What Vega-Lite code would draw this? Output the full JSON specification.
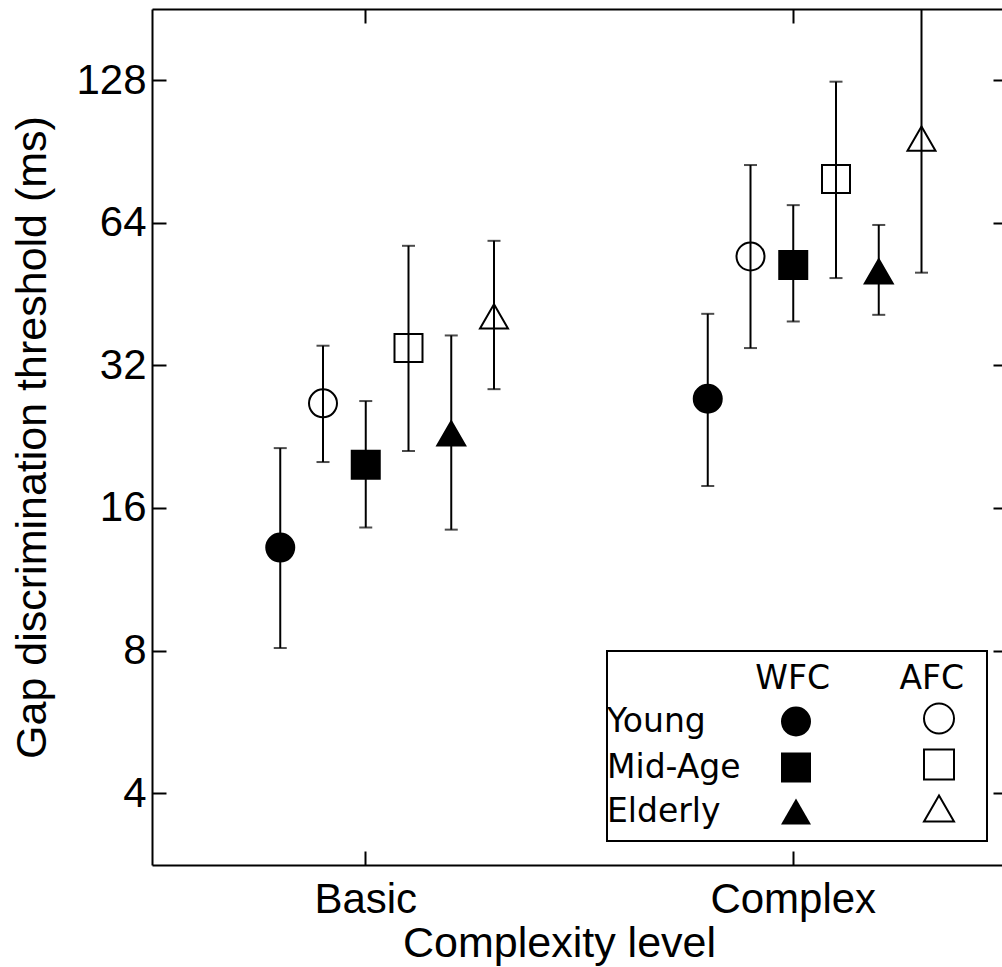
{
  "$schema": "https://vega.github.io/schema/vega-lite/v6.json",
  "width": 855,
  "height": 856,
  "autosize": {"type": "none"},
  "padding": {"left": 152, "top": 9, "right": -5, "bottom": 102},
  "background": "white",
  "config": {
    "view": {"stroke": null},
    "axis": {
      "grid": false,
      "domainColor": "black",
      "domainWidth": 2,
      "tickColor": "black",
      "tickWidth": 2,
      "tickSize": -14,
      "labelFont": "Liberation Sans",
      "labelFontSize": 42,
      "labelColor": "black",
      "titleFont": "Liberation Sans",
      "titleFontSize": 43,
      "titleFontWeight": "normal",
      "titleColor": "black"
    },
    "legend": {"strokeWidth": 2}
  },
  "data": {
    "values": [
      {"level": "Basic", "group": "Young WFC", "age": "Young", "cond": "WFC", "value": 13.2, "lo": 8.1, "hi": 21.4},
      {"level": "Basic", "group": "Young AFC", "age": "Young", "cond": "AFC", "value": 26.6, "lo": 20.0, "hi": 35.2},
      {"level": "Basic", "group": "Mid-Age WFC", "age": "Mid-Age", "cond": "WFC", "value": 19.75, "lo": 14.55, "hi": 26.9},
      {"level": "Basic", "group": "Mid-Age AFC", "age": "Mid-Age", "cond": "AFC", "value": 34.8, "lo": 21.1, "hi": 57.2},
      {"level": "Basic", "group": "Elderly WFC", "age": "Elderly", "cond": "WFC", "value": 23.0, "lo": 14.4, "hi": 37.0},
      {"level": "Basic", "group": "Elderly AFC", "age": "Elderly", "cond": "AFC", "value": 40.6, "lo": 28.5, "hi": 58.6},
      {"level": "Complex", "group": "Young WFC", "age": "Young", "cond": "WFC", "value": 27.2, "lo": 17.8, "hi": 41.1},
      {"level": "Complex", "group": "Young AFC", "age": "Young", "cond": "AFC", "value": 54.3, "lo": 34.8, "hi": 84.7},
      {"level": "Complex", "group": "Mid-Age WFC", "age": "Mid-Age", "cond": "WFC", "value": 52.1, "lo": 39.6, "hi": 69.7},
      {"level": "Complex", "group": "Mid-Age AFC", "age": "Mid-Age", "cond": "AFC", "value": 79.1, "lo": 48.9, "hi": 127},
      {"level": "Complex", "group": "Elderly WFC", "age": "Elderly", "cond": "WFC", "value": 50.5, "lo": 40.9, "hi": 63.3},
      {"level": "Complex", "group": "Elderly AFC", "age": "Elderly", "cond": "AFC", "value": 96.3, "lo": 50.2, "hi": 200}
    ]
  },
  "layer": [
    {
      "mark": {"type": "rule", "color": "black", "strokeWidth": 2, "clip": true},
      "encoding": {
        "x": {"field": "level", "type": "nominal", "scale": {"domain": ["Basic", "Complex"], "paddingInner": 0, "paddingOuter": 0},
          "axis": {"orient": "bottom", "labelAngle": 0, "labelPadding": 28, "title": "Complexity level", "titlePadding": 2, "titleX": 407}},
        "xOffset": {"field": "group", "type": "nominal", "scale": {"domain": ["pad1", "pad2", "Young WFC", "Young AFC", "Mid-Age WFC", "Mid-Age AFC", "Elderly WFC", "Elderly AFC", "pad3"], "paddingInner": 0, "paddingOuter": 0.5, "align": 0.5}},
        "y": {"field": "lo", "type": "quantitative", "scale": {"type": "log", "base": 2, "domain": [2.822, 180.8], "nice": false, "zero": false},
          "axis": {"orient": "left", "values": [4, 8, 16, 32, 64, 128], "format": "d", "labelPadding": 20, "title": "Gap discrimination threshold (ms)", "titlePadding": 21}},
        "y2": {"field": "hi"}
      }
    },
    {
      "mark": {"type": "tick", "orient": "horizontal", "color": "black", "size": 13, "thickness": 2},
      "encoding": {
        "x": {"field": "level", "type": "nominal", "axis": {"orient": "top", "labels": false, "title": null}},
        "xOffset": {"field": "group", "type": "nominal"},
        "y": {"field": "lo", "type": "quantitative", "axis": {"orient": "right", "values": [4, 8, 16, 32, 64, 128], "labels": false, "title": null}}
      }
    },
    {
      "mark": {"type": "tick", "orient": "horizontal", "color": "black", "size": 13, "thickness": 2, "clip": true},
      "encoding": {
        "x": {"field": "level", "type": "nominal", "axis": null},
        "xOffset": {"field": "group", "type": "nominal"},
        "y": {"field": "hi", "type": "quantitative", "axis": null}
      }
    },
    {
      "transform": [{"filter": "datum.cond === 'WFC'"}],
      "mark": {"type": "point", "filled": true, "color": "black", "stroke": "black", "strokeWidth": 2, "size": 784, "opacity": 1},
      "encoding": {
        "x": {"field": "level", "type": "nominal", "axis": null},
        "xOffset": {"field": "group", "type": "nominal"},
        "y": {"field": "value", "type": "quantitative", "axis": null},
        "shape": {"field": "age", "type": "nominal",
          "scale": {"domain": ["Young", "Mid-Age", "Elderly"], "range": ["circle", "square", "triangle-up"]},
          "legend": {
            "orient": "none", "legendX": 455, "legendY": 642,
            "title": "\u200b\u00a0\u00a0\u00a0\u00a0\u00a0\u00a0\u00a0\u00a0\u00a0\u00a0\u00a0\u00a0\u00a0WFC\u00a0\u00a0\u00a0\u00a0\u00a0\u00a0\u2009AFC\u00a0\u200b",
            "titleFont": "DejaVu Sans", "titleFontSize": 33, "titleFontWeight": "normal", "titleColor": "black", "titleAnchor": "start", "titlePadding": 9, "titleLimit": 2000,
            "labelFont": "DejaVu Sans", "labelFontSize": 33, "labelColor": "black", "labelAlign": "left", "labelOffset": -205.5, "labelLimit": 2000,
            "symbolSize": 900, "symbolFillColor": "black", "symbolStrokeColor": "black", "symbolStrokeWidth": 2, "symbolOpacity": 1, "symbolOffset": 160.5,
            "rowPadding": 7,
            "strokeColor": "black", "padding": 12
          }}
      }
    },
    {
      "transform": [{"filter": "datum.cond === 'AFC'"}],
      "mark": {"type": "point", "filled": false, "color": "black", "strokeWidth": 2, "size": 784, "opacity": 1},
      "encoding": {
        "x": {"field": "level", "type": "nominal", "axis": null},
        "xOffset": {"field": "group", "type": "nominal"},
        "y": {"field": "value", "type": "quantitative", "axis": null},
        "shape": {"field": "age", "type": "nominal",
          "scale": {"domain": ["Young", "Mid-Age", "Elderly"], "range": ["circle", "square", "triangle-up"]},
          "legend": {
            "orient": "none", "legendX": 610, "legendY": 693, "title": null,
            "labelFont": "DejaVu Sans", "labelFontSize": 33, "labelColor": "black", "labelOpacity": 0, "labelAlign": "left", "labelOffset": -205.5, "labelLimit": 2000,
            "symbolSize": 900, "symbolStrokeColor": "black", "symbolStrokeWidth": 2, "symbolOpacity": 1, "symbolOffset": 160.5,
            "rowPadding": 7, "padding": 0
          }}
      }
    }
  ],
  "resolve": {"axis": {"x": "independent", "y": "independent"}, "scale": {"shape": "independent"}, "legend": {"shape": "independent"}}
}
